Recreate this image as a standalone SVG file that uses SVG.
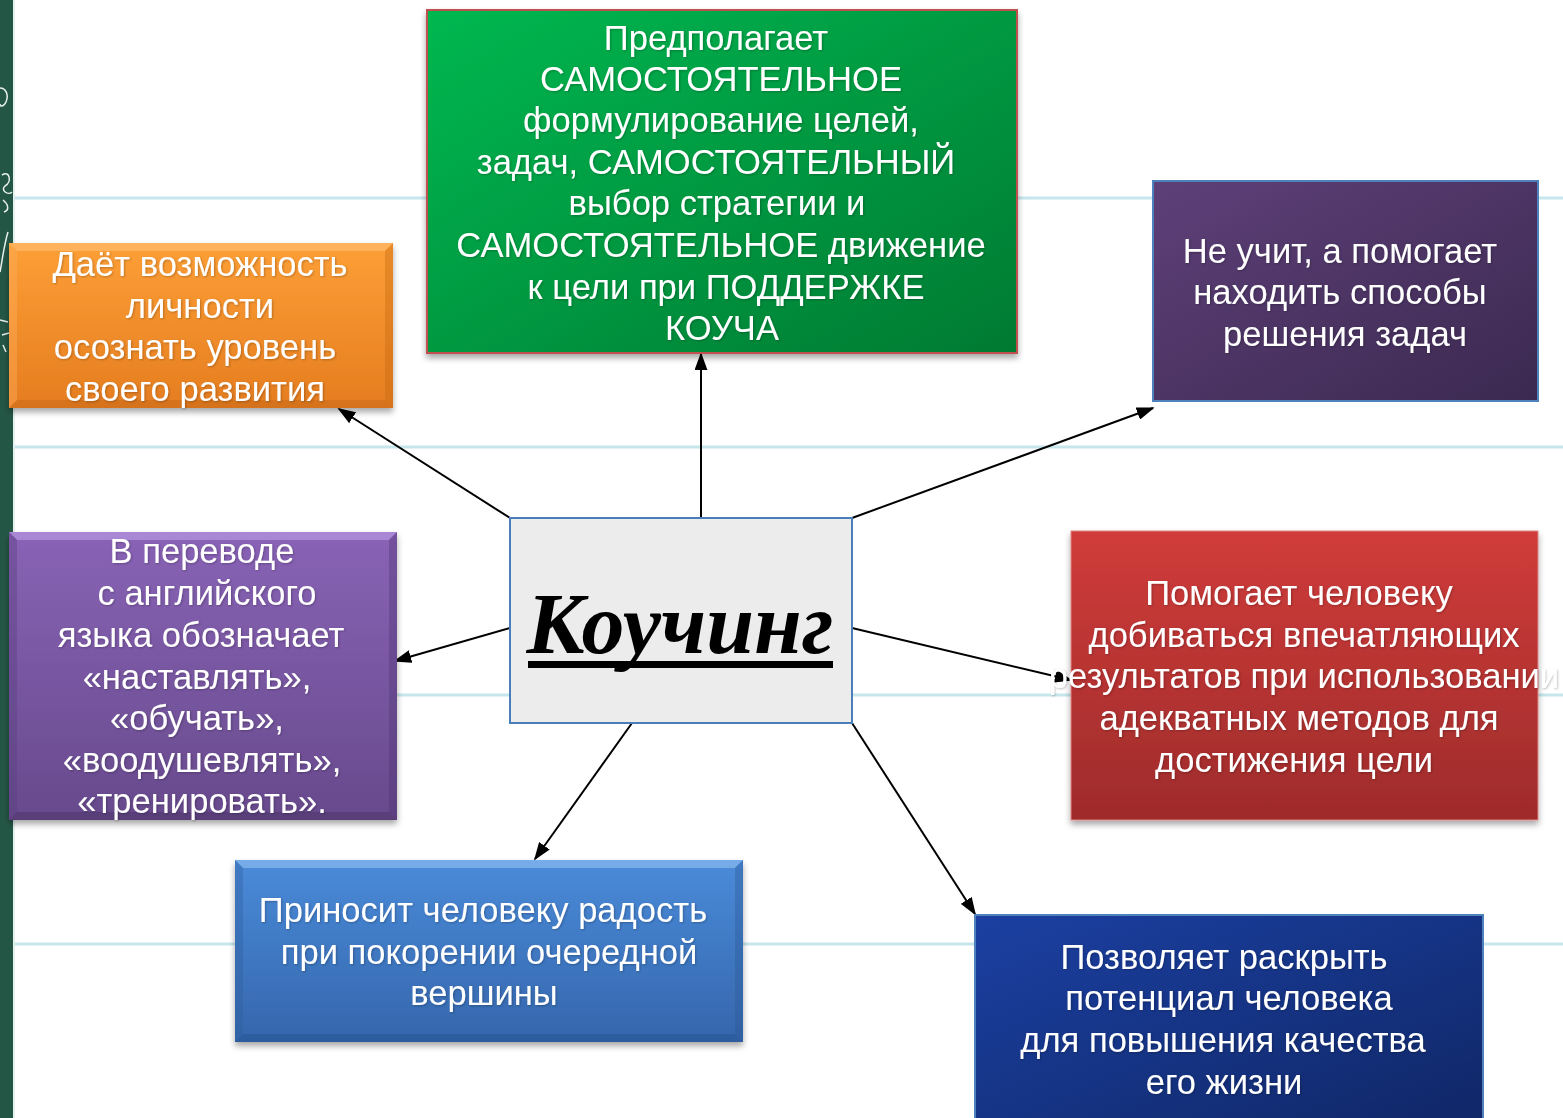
<svg xmlns="http://www.w3.org/2000/svg" width="1563" height="1118" viewBox="0 0 1563 1118">
<style>
.t{font-family:"Liberation Sans",Arial,sans-serif;font-size:34.6px;fill:#ffffff;text-anchor:middle;filter:url(#ts)}
.rule{stroke:#c5e6ec;stroke-width:3}
.conn{stroke:#000;stroke-width:2;fill:none;marker-end:url(#ah)}
</style>
<defs>
<marker id="ah" viewBox="0 0 10 10" refX="9" refY="5" markerWidth="9" markerHeight="6.5" markerUnits="strokeWidth" orient="auto" preserveAspectRatio="none">
<path d="M0,0 L10,5 L0,10 z" fill="#000"/>
</marker>
<filter id="sh" x="-5%" y="-5%" width="110%" height="120%">
<feDropShadow dx="0" dy="4" stdDeviation="3" flood-color="#000" flood-opacity="0.35"/>
</filter>
<filter id="ts" x="-5%" y="-20%" width="110%" height="140%">
<feDropShadow dx="1" dy="1" stdDeviation="0.8" flood-color="#000" flood-opacity="0.25"/>
</filter>
<linearGradient id="gOrange" x1="0" y1="0" x2="0" y2="1"><stop offset="0" stop-color="#fd9f36"/><stop offset="1" stop-color="#e57d20"/></linearGradient>
<linearGradient id="gPurp" x1="0" y1="0" x2="0" y2="1"><stop offset="0" stop-color="#8963b6"/><stop offset="1" stop-color="#674a8c"/></linearGradient>
<linearGradient id="gBlue" x1="0" y1="0" x2="0" y2="1"><stop offset="0" stop-color="#4a8bd9"/><stop offset="1" stop-color="#3566ac"/></linearGradient>
<linearGradient id="gGreen" x1="0" y1="0" x2="1" y2="1"><stop offset="0" stop-color="#00b850"/><stop offset="1" stop-color="#007a32"/></linearGradient>
<linearGradient id="gDPurp" x1="0" y1="0" x2="1" y2="1"><stop offset="0" stop-color="#5e4079"/><stop offset="1" stop-color="#3b2950"/></linearGradient>
<linearGradient id="gRed" x1="0" y1="0" x2="0" y2="1"><stop offset="0" stop-color="#d03c3a"/><stop offset="1" stop-color="#9e2b2b"/></linearGradient>
<linearGradient id="gDBlue" x1="0" y1="0" x2="1" y2="1"><stop offset="0" stop-color="#1b40a2"/><stop offset="1" stop-color="#102766"/></linearGradient>
</defs>

<!-- background -->
<rect x="0" y="0" width="1563" height="1118" fill="#ffffff"/>
<g id="background">
<line class="rule" x1="14" y1="198" x2="1563" y2="198"/>
<line class="rule" x1="14" y1="447" x2="1563" y2="447"/>
<line class="rule" x1="14" y1="695" x2="1563" y2="695"/>
<line class="rule" x1="14" y1="944" x2="1563" y2="944"/>
<rect x="0" y="0" width="13" height="1118" fill="#245646"/>
<line x1="14" y1="0" x2="14" y2="1118" stroke="#dfeeea" stroke-width="1.5"/>
<path d="M0,88 C6,88 9,95 6,102 C3,108 0,106 0,104" stroke="#e8f0ec" stroke-width="1.5" fill="none"/>
<path d="M2,175 C10,170 12,182 5,186 C0,190 8,196 12,192 M3,200 C8,204 10,210 4,212" stroke="#e8f0ec" stroke-width="1.5" fill="none"/>
<path d="M8,232 C4,245 2,262 0,272" stroke="#e8f0ec" stroke-width="1.5" fill="none"/>
<path d="M0,320 L8,322 M2,335 L9,333 M3,345 L6,352" stroke="#e8f0ec" stroke-width="1.5" fill="none"/>
</g>

<!-- connectors -->
<g id="connectors">
<line class="conn" x1="701" y1="518" x2="701" y2="354"/>
<line class="conn" x1="510" y1="518" x2="339" y2="409"/>
<line class="conn" x1="852" y1="518" x2="1153" y2="408"/>
<line class="conn" x1="510" y1="628" x2="395" y2="661"/>
<line class="conn" x1="852" y1="628" x2="1071" y2="680"/>
<line class="conn" x1="632" y1="723" x2="535" y2="859"/>
<line class="conn" x1="852" y1="723" x2="975" y2="914"/>
</g>

<!-- green top -->
<g id="node-green">
<rect x="427" y="10" width="590" height="343" fill="url(#gGreen)" stroke="#c0504d" stroke-width="2" filter="url(#sh)"/>
<text class="t" x="716" y="50">Предполагает</text>
<text class="t" x="721" y="91">САМОСТОЯТЕЛЬНОЕ</text>
<text class="t" x="721" y="132">формулирование целей,</text>
<text class="t" x="716" y="174">задач, САМОСТОЯТЕЛЬНЫЙ</text>
<text class="t" x="717" y="215">выбор стратегии и</text>
<text class="t" x="721" y="257">САМОСТОЯТЕЛЬНОЕ движение</text>
<text class="t" x="726" y="299">к цели при ПОДДЕРЖКЕ</text>
<text class="t" x="722" y="340">КОУЧА</text>
</g>

<!-- orange -->
<g id="node-orange">
<rect x="9" y="243" width="384" height="165" fill="url(#gOrange)" filter="url(#sh)"/>
<polygon points="9,243 393,243 385,251 17,251" fill="#ffc27a" opacity="0.55"/>
<polygon points="9,408 393,408 385,400 17,400" fill="#b85f12" opacity="0.35"/>
<polygon points="9,243 17,251 17,400 9,408" fill="#ffb060" opacity="0.4"/>
<polygon points="393,243 385,251 385,400 393,408" fill="#c0640f" opacity="0.35"/>
<text class="t" x="200" y="276">Даёт возможность</text>
<text class="t" x="200" y="318">личности</text>
<text class="t" x="195" y="359">осознать уровень</text>
<text class="t" x="195" y="401">своего развития</text>
</g>

<!-- dark purple -->
<g id="node-darkpurple">
<rect x="1153" y="181" width="385" height="220" fill="url(#gDPurp)" stroke="#4f81bd" stroke-width="2"/>
<text class="t" x="1340" y="263">Не учит, а помогает</text>
<text class="t" x="1340" y="304">находить способы</text>
<text class="t" x="1345" y="346">решения задач</text>
</g>

<!-- center -->
<g id="node-center">
<rect x="510" y="518" width="342" height="205" fill="#ececec" stroke="#4a7ebb" stroke-width="2"/>
<text x="680" y="653" font-family="'Liberation Serif','Times New Roman',serif" font-size="86" font-weight="bold" font-style="italic" fill="#000" text-anchor="middle">Коучинг</text>
<rect x="528" y="661" width="305" height="7" fill="#000"/>
</g>

<!-- purple left -->
<g id="node-purple">
<rect x="9" y="532" width="388" height="288" fill="url(#gPurp)" filter="url(#sh)"/>
<polygon points="9,532 397,532 389,540 17,540" fill="#c3a6ec" opacity="0.55"/>
<polygon points="9,820 397,820 389,812 17,812" fill="#3e2a5a" opacity="0.35"/>
<polygon points="9,532 17,540 17,812 9,820" fill="#5a3f80" opacity="0.4"/>
<polygon points="397,532 389,540 389,812 397,820" fill="#4a3270" opacity="0.35"/>
<text class="t" x="202" y="563">В переводе</text>
<text class="t" x="207" y="605">с английского</text>
<text class="t" x="201" y="647">языка обозначает</text>
<text class="t" x="197" y="689">«наставлять»,</text>
<text class="t" x="197" y="730">«обучать»,</text>
<text class="t" x="202" y="772">«воодушевлять»,</text>
<text class="t" x="202" y="813">«тренировать».</text>
</g>

<!-- red -->
<g id="node-red">
<rect x="1071" y="531" width="467" height="289" fill="url(#gRed)" stroke="#d88" stroke-width="1" filter="url(#sh)"/>
<text class="t" x="1299" y="605">Помогает человеку</text>
<text class="t" x="1304" y="647">добиваться впечатляющих</text>
<text class="t" x="1304" y="688">результатов при использовании</text>
<text class="t" x="1299" y="730">адекватных методов для</text>
<text class="t" x="1294" y="772">достижения цели</text>
</g>

<!-- light blue -->
<g id="node-blue">
<rect x="235" y="860" width="508" height="182" fill="url(#gBlue)" filter="url(#sh)"/>
<polygon points="235,860 743,860 735,868 243,868" fill="#9cc6f5" opacity="0.55"/>
<polygon points="235,1042 743,1042 735,1034 243,1034" fill="#1e4a85" opacity="0.35"/>
<polygon points="235,860 243,868 243,1034 235,1042" fill="#2f5d9c" opacity="0.35"/>
<polygon points="743,860 735,868 735,1034 743,1042" fill="#2a5590" opacity="0.35"/>
<text class="t" x="483" y="922">Приносит человеку радость</text>
<text class="t" x="489" y="964">при покорении очередной</text>
<text class="t" x="484" y="1005">вершины</text>
</g>

<!-- dark blue -->
<g id="node-darkblue">
<rect x="975" y="915" width="508" height="215" fill="url(#gDBlue)" stroke="#4f81bd" stroke-width="2"/>
<text class="t" x="1224" y="969">Позволяет раскрыть</text>
<text class="t" x="1229" y="1010">потенциал человека</text>
<text class="t" x="1223" y="1052">для повышения качества</text>
<text class="t" x="1224" y="1094">его жизни</text>
</g>
</svg>
